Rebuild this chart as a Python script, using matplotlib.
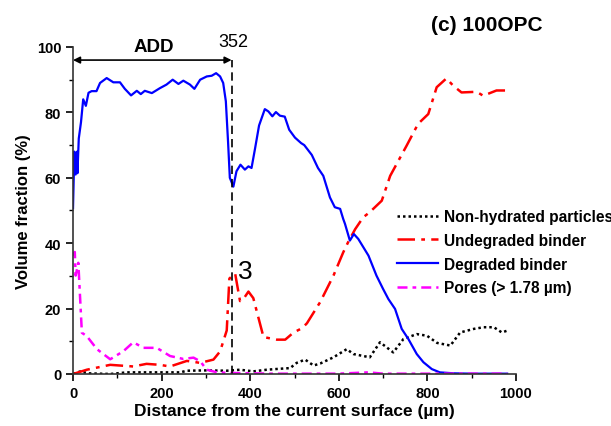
import matplotlib
matplotlib.use("Agg")
import matplotlib.pyplot as plt
from matplotlib.ticker import MultipleLocator

plt.rcParams["font.family"] = ["Liberation Sans", "DejaVu Sans"]

# degraded binder (blue, solid)
deg_x = [0, 3, 6, 9, 10, 13, 18, 23, 29, 35, 42, 53, 61, 76, 91, 106, 117, 131,
         144, 153, 162, 178, 196, 211, 225, 238, 249, 264, 274, 287, 302, 313,
         323, 332, 339, 345, 350, 354, 362, 369, 378, 388, 396, 403, 411, 420,
         433, 441, 450, 458, 467, 478, 488, 501, 515, 522, 539, 553, 565, 580,
         591, 603, 610, 614, 625, 634, 644, 667, 685, 700, 712, 727, 742, 757,
         776, 791, 810, 828, 860, 900, 940, 980]
deg_y = [50.7, 68, 61, 68, 61.4, 72, 77, 84, 82, 86, 86.5, 86.5, 89, 90.5, 89.2,
         89.2, 87.2, 85.2, 86.6, 85.6, 86.6, 85.9, 87.4, 88.5, 90, 88.7, 89.7,
         88.5, 87.2, 90, 91, 91.2, 92, 91, 89, 83.4, 71, 60, 57.3, 62, 64, 62.5,
         63.5, 63, 69, 76, 81, 80.3, 78.8, 80.1, 79, 78.7, 74.7, 72.3, 70.6, 70,
         67, 63, 60.6, 54, 51, 50.5, 47.4, 45.9, 40.8, 42.8, 41.3, 36.2, 30.1,
         26, 22.9, 19.9, 13.8, 10.7, 6.1, 3.6, 1.5, 0.5, 0.2, 0.1, 0.1, 0.1]

# undegraded binder (red, dash-dot)
und_x = [0, 31, 84, 136, 166, 196, 219, 257, 287, 317, 332, 347, 353, 366, 377,
         386, 396, 407, 430, 460, 479, 498, 517, 528, 558, 588, 610, 621, 637,
         655, 670, 697, 716, 753, 779, 802, 821, 843, 858, 877, 911, 926, 956, 979]
und_y = [0, 1.3, 2.8, 2.3, 3.1, 2.8, 2.3, 4, 3.4, 4.4, 6.9, 13.3, 29.2, 30.7,
         22.3, 23.2, 25.2, 23.2, 11.3, 10.5, 10.5, 12.7, 14, 15.5, 22, 30.1, 37.2,
         40.3, 44.3, 47.9, 49.5, 53, 60.6, 69.8, 76.5, 79.5, 87.7, 90.4, 88.2,
         86.1, 86.3, 85.1, 86.7, 86.7]

# non-hydrated particles (black, dotted)
nh_x = [0, 17, 35, 84, 122, 182, 242, 257, 302, 347, 377, 407, 437, 467, 490,
        505, 524, 543, 558, 588, 618, 633, 670, 693, 723, 746, 776, 799, 822,
        852, 874, 905, 927, 950, 968, 979]
nh_y = [0, 0.8, 0.2, 0, 0.5, 0.5, 0.5, 1, 1.1, 1, 1.3, 0.8, 1.3, 1.6, 1.8, 3.4,
        4.4, 2.6, 3.2, 5.1, 7.6, 6.1, 5.1, 9.7, 6.6, 10.7, 12.2, 11.7, 9.5, 8.7,
        12.7, 13.8, 14.3, 14.3, 12.7, 13.2]

# pores > 1.78 um (magenta, dash-dot)
por_x = [0, 4, 6, 12, 20, 31, 54, 84, 114, 136, 159, 189, 219, 249, 272, 287,
         302, 325, 360, 450, 600, 667, 700, 800, 900, 980]
por_y = [36.3, 37.3, 30.1, 34, 12.6, 11.6, 7.6, 4.5, 7, 9.7, 8, 8, 5.5, 4.6, 5,
         3.9, 1.3, 0.5, 0.3, 0.1, 0.1, 0.5, 0.1, 0.1, 0.1, 0.1]

add_depth = 358

fig = plt.figure(figsize=(6.11, 4.27), dpi=100)
ax = fig.add_axes([0.1195, 0.1218, 0.725, 0.7658])

ax.plot(nh_x, nh_y, color="black", lw=1.8, ls=(0, (1, 1.2)),
        label="Non-hydrated particles")
ax.plot(und_x, und_y, color="red", lw=1.8, ls=(0, (7, 2.5, 1.5, 2.5)),
        label="Undegraded binder")
ax.plot(deg_x, deg_y, color="#0000ff", lw=1.6, label="Degraded binder")
ax.plot(por_x, por_y, color="#ff00ff", lw=1.8, ls=(0, (4, 2, 1.5, 2)),
        label="Pores (> 1.78 \u00b5m)")

ax.axvline(add_depth, ymax=0.96, color="black", lw=1.2, ls=(0, (5, 3)))
ax.annotate("", xy=(0, 96), xytext=(add_depth, 96),
            arrowprops=dict(arrowstyle="<|-|>", color="black", lw=1.2,
                            mutation_scale=10, shrinkA=0, shrinkB=0))
ax.text(add_depth / 2 + 4, 97.5, "ADD", ha="center", va="bottom",
        fontsize=13.5, fontweight="bold")
ax.text(add_depth + 4, 99, "352", ha="center", va="bottom", fontsize=13)
ax.text(388, 31.5, "3", ha="center", va="center", fontsize=19)

ax.set_xlim(0, 1000)
ax.set_ylim(0, 100)
ax.xaxis.set_major_locator(MultipleLocator(200))
ax.xaxis.set_minor_locator(MultipleLocator(100))
ax.yaxis.set_major_locator(MultipleLocator(20))
ax.yaxis.set_minor_locator(MultipleLocator(10))
for s in ("top", "right"):
    ax.spines[s].set_visible(False)
for s in ("left", "bottom"):
    ax.spines[s].set_linewidth(1.2)
    ax.spines[s].set_color("#333333")
ax.tick_params(which="major", direction="out", length=5, width=1.2,
               labelsize=10.5)
ax.tick_params(which="minor", direction="out", length=3, width=1.0)
for lab in ax.get_xticklabels() + ax.get_yticklabels():
    lab.set_fontweight("bold")

ax.set_xlabel("Distance from the current surface (\u00b5m)", fontsize=12.5,
              fontweight="bold", labelpad=2)
ax.set_ylabel("Volume fraction (%)", fontsize=12, fontweight="bold",
              labelpad=4)

fig.text(0.797, 0.941, "(c) 100OPC", ha="center", va="center", fontsize=15,
         fontweight="bold")

# legend runs off the right edge in the original too
ax.legend(loc="upper left", bbox_to_anchor=(0.65, 0.508),
          bbox_transform=fig.transFigure, frameon=False,
          prop=dict(weight="bold", size=11.2), handlelength=2.6,
          handletextpad=0.4, labelspacing=0.56, borderaxespad=0,
          borderpad=0)

fig.savefig("out.png", dpi=100)
